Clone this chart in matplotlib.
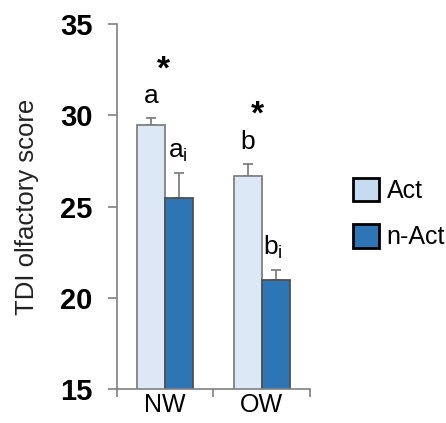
import numpy as np
import matplotlib
matplotlib.use('Agg')
import matplotlib.pyplot as plt
from matplotlib.patches import Patch

plt.rcParams['font.family'] = ['Liberation Sans', 'DejaVu Sans']
plt.rcParams['mathtext.fontset'] = 'custom'
plt.rcParams['mathtext.rm'] = 'Liberation Sans'
plt.rcParams['mathtext.default'] = 'regular'

# data
groups = ['NW', 'OW']
series = ['Act', 'n-Act']
act_mean = [29.5, 26.7]
act_err = [0.35, 0.65]
nact_mean = [25.5, 21.0]
nact_err = [1.35, 0.55]

# letters / stars above the bars: (x, y, text)
annotations = [
    (0.36, 31.05, 'a'),
    (0.63, 28.0, r'a$_{i}$'),
    (1.35, 28.55, 'b'),
    (1.62, 22.75, r'b$_{i}$'),
]
stars = [(0.48, 32.5), (1.46, 30.0)]

act_color = '#dce8f5'
nact_color = '#2e75b6'
grey = '#808080'

fig = plt.figure(figsize=(4.46, 4.23), dpi=100)
ax = fig.add_axes([0.262, 0.0804, 0.433, 0.8622])

x = np.arange(len(groups)) + 0.5
w = 0.29
ax.bar(x - w / 2, act_mean, w, color=act_color, edgecolor=grey, linewidth=1.3, zorder=2)
ax.bar(x + w / 2, nact_mean, w, color=nact_color, edgecolor='#505050', linewidth=1.3, zorder=2)
ax.errorbar(x - w / 2, act_mean, yerr=[np.zeros(2), act_err], fmt='none',
            ecolor=grey, elinewidth=1.3, capsize=3.5, capthick=1.3, zorder=1)
ax.errorbar(x + w / 2, nact_mean, yerr=[np.zeros(2), nact_err], fmt='none',
            ecolor=grey, elinewidth=1.3, capsize=3.5, capthick=1.3, zorder=1)

ax.set_xlim(0, 2)
ax.set_ylim(15, 35)
ax.set_yticks([15, 20, 25, 30, 35])
ax.set_yticklabels(['15', '20', '25', '30', '35'], fontsize=21, fontweight='bold')
ax.set_xticks([0, 1, 2])
ax.set_xticklabels([])
ax.set_xticks(x, minor=True)
ax.set_xticklabels(groups, minor=True, fontsize=18)
ax.tick_params(axis='x', which='minor', length=0, pad=3)
ax.tick_params(axis='x', which='major', length=5.5, width=1.2, color=grey, direction='out')
ax.tick_params(axis='y', length=6.5, width=1.2, color=grey, direction='out', pad=11)

for s in ['top', 'right']:
    ax.spines[s].set_visible(False)
for s in ['left', 'bottom']:
    ax.spines[s].set_color(grey)
    ax.spines[s].set_linewidth(1.2)

ax.set_ylabel('TDI olfactory score', fontsize=18.5, color='#222222')
ax.yaxis.set_label_coords(-0.405, 0.5)

for xx, yy, t in annotations:
    ax.text(xx, yy, t, ha='center', va='center', fontsize=19)
for xx, yy in stars:
    ax.text(xx, yy, '*', ha='center', va='center', fontsize=24, fontweight='bold')

handles = [Patch(facecolor='#c5dbf0', edgecolor='black', linewidth=2, label='Act'),
           Patch(facecolor=nact_color, edgecolor='black', linewidth=2, label='n-Act')]
fig.legend(handles=handles, loc='upper left', bbox_to_anchor=(353 / 446, 1 - 178 / 423),
           frameon=False, fontsize=18, handlelength=1.05, handleheight=1.05,
           handletextpad=0.3, labelspacing=0.85, borderpad=0, borderaxespad=0)

fig.savefig('out.png', dpi=100)
